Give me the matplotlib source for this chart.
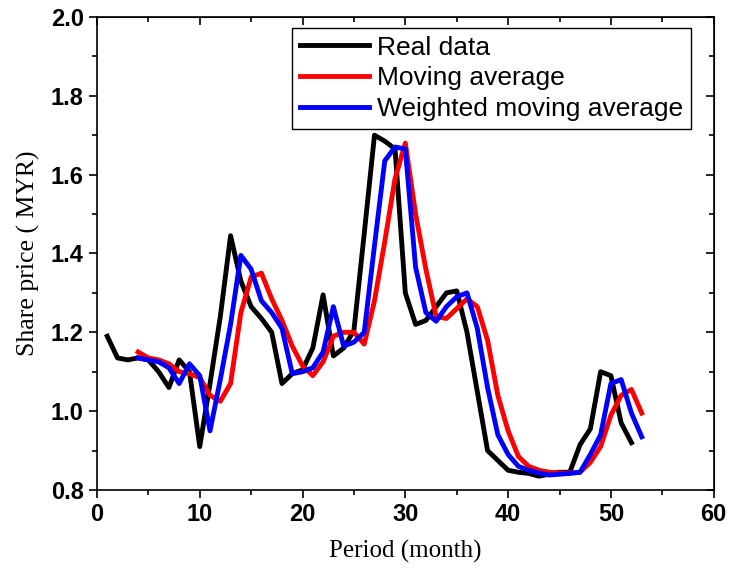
import matplotlib.pyplot as plt
from matplotlib.ticker import MultipleLocator

# Month index for each series
months_real = list(range(1, 53))
months_ma = list(range(4, 54))

# Real share price (MYR), months 1..52
real_data = [1.19, 1.135, 1.13, 1.135, 1.13, 1.10, 1.06, 1.13, 1.10, 0.91,
             1.07, 1.24, 1.445, 1.33, 1.265, 1.235, 1.20, 1.07, 1.095, 1.105,
             1.16, 1.295, 1.14, 1.16, 1.205, 1.45, 1.70, 1.685, 1.665, 1.30,
             1.22, 1.23, 1.265, 1.30, 1.305, 1.20, 1.05, 0.90, 0.875, 0.85,
             0.845, 0.842, 0.835, 0.84, 0.845, 0.845, 0.915, 0.955, 1.10, 1.09,
             0.97, 0.92]

# Moving average, months 4..53
moving_avg = [1.15, 1.135, 1.13, 1.12, 1.10, 1.095, 1.085, 1.04, 1.025, 1.07,
              1.25, 1.34, 1.35, 1.285, 1.23, 1.165, 1.115, 1.09, 1.125, 1.19,
              1.20, 1.20, 1.17, 1.28, 1.43, 1.59, 1.68, 1.50, 1.36, 1.24,
              1.235, 1.26, 1.285, 1.265, 1.18, 1.04, 0.95, 0.885, 0.86, 0.85,
              0.845, 0.843, 0.843, 0.845, 0.87, 0.91, 0.99, 1.04, 1.055, 0.995]

# Weighted moving average, months 4..53
weighted_avg = [1.135, 1.13, 1.125, 1.11, 1.07, 1.12, 1.09, 0.95, 1.08, 1.22,
                1.395, 1.36, 1.28, 1.25, 1.21, 1.095, 1.10, 1.11, 1.15, 1.265,
                1.165, 1.175, 1.20, 1.42, 1.635, 1.67, 1.665, 1.365, 1.25, 1.228,
                1.265, 1.29, 1.30, 1.21, 1.06, 0.94, 0.89, 0.86, 0.85, 0.843,
                0.838, 0.84, 0.842, 0.845, 0.89, 0.94, 1.07, 1.08, 0.995, 0.935]

fig = plt.figure(figsize=(7.29, 5.72), dpi=100)
ax = fig.add_axes([0.133, 0.1434, 0.846, 0.827])

ax.plot(months_real, real_data, color="black", linewidth=3.5, label="Real data")
ax.plot(months_ma, moving_avg, color="red", linewidth=3.5, label="Moving average")
ax.plot(months_ma, weighted_avg, color="blue", linewidth=3.5, label="Weighted moving average")

ax.set_xlim(0, 60)
ax.set_ylim(0.8, 2.0)
ax.xaxis.set_major_locator(MultipleLocator(10))
ax.xaxis.set_minor_locator(MultipleLocator(5))
ax.yaxis.set_major_locator(MultipleLocator(0.2))
ax.yaxis.set_minor_locator(MultipleLocator(0.1))
ax.yaxis.set_major_formatter(plt.FormatStrFormatter("%.1f"))

# outward ticks on bottom/left, inward mirrored ticks on top/right
ax.tick_params(which="both", direction="out", width=1.2)
ax.tick_params(which="major", length=6)
ax.tick_params(which="minor", length=3.5)
ax2 = ax.secondary_xaxis("top")
ax2.xaxis.set_major_locator(MultipleLocator(10))
ax2.xaxis.set_minor_locator(MultipleLocator(5))
ax2.tick_params(which="both", direction="in", labeltop=False, width=1.2)
ax2.tick_params(which="major", length=6)
ax2.tick_params(which="minor", length=3.5)
ay2 = ax.secondary_yaxis("right")
ay2.yaxis.set_major_locator(MultipleLocator(0.2))
ay2.yaxis.set_minor_locator(MultipleLocator(0.1))
ay2.tick_params(which="both", direction="in", labelright=False, width=1.2)
ay2.tick_params(which="major", length=6)
ay2.tick_params(which="minor", length=3.5)

for lab in ax.get_xticklabels() + ax.get_yticklabels():
    lab.set_fontfamily("Liberation Sans")
    lab.set_fontweight("bold")
    lab.set_fontsize(17)

for sp in ax.spines.values():
    sp.set_linewidth(1.2)

ax.set_xlabel("Period (month)", family="Liberation Serif", fontsize=18, labelpad=10)
ax.set_ylabel("Share price ( MYR)", family="Liberation Serif", fontsize=18.5, labelpad=8)

leg = ax.legend(loc="upper right", bbox_to_anchor=(0.963, 0.977), borderaxespad=0,
                prop={"family": "Liberation Sans", "size": 19}, fancybox=False,
                edgecolor="black", framealpha=1, handlelength=2.6,
                labelspacing=0.25, handletextpad=0.3, borderpad=0.3)
leg.get_frame().set_linewidth(1.0)

fig.savefig("out.png", dpi=100)
